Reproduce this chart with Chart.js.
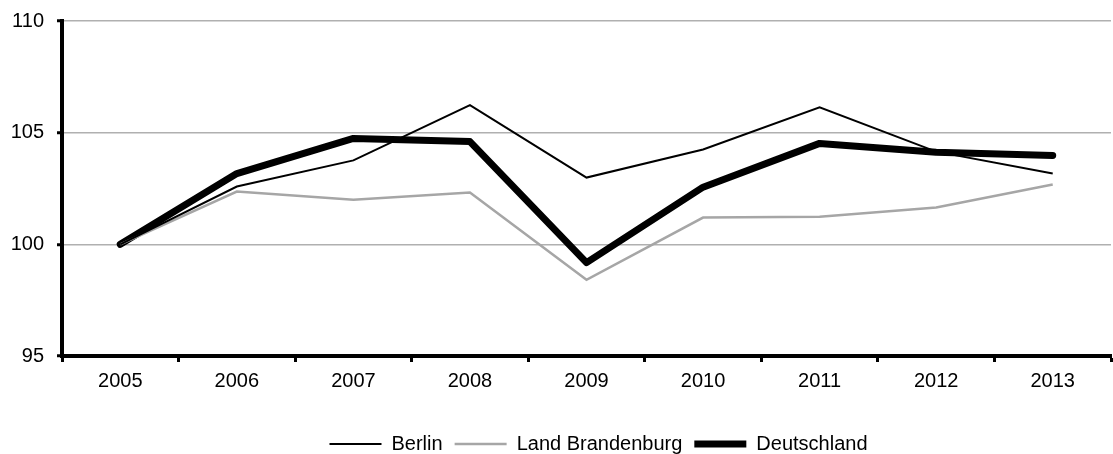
<!DOCTYPE html>
<html>
<head>
<meta charset="utf-8">
<script src="https://cdn.jsdelivr.net/npm/chart.js@4"></script>
<style>
  html, body { margin: 0; padding: 0; background: #fff; }
  #wrap { width: 1113px; height: 454px; }
</style>
</head>
<body>
<div id="wrap"><canvas id="indexChart"></canvas></div>
<script>
// Jahre und Indexwerte (2005 = 100)
const years = ['2005', '2006', '2007', '2008', '2009', '2010', '2011', '2012', '2013'];
const berlin = [100, 102.59, 103.76, 106.23, 102.99, 104.25, 106.14, 104.15, 103.17];
const brandenburg = [100, 102.36, 102.0, 102.32, 98.41, 101.2, 101.24, 101.65, 102.68];
const deutschland = [100, 103.17, 104.74, 104.6, 99.18, 102.56, 104.52, 104.12, 103.98];
const yTicks = [95, 100, 105, 110];

Chart.defaults.font.family = '"Liberation Sans", Arial, sans-serif';
Chart.defaults.color = '#000';

// Legende etwas nach rechts schieben (wie im Original)
const legendShift = {
    id: 'legendShift',
    afterLayout(chart) {
        if (chart.legend) {
            chart.legend.left += 43;
            chart.legend.right += 43;
        }
    }
};

const ctx = document.getElementById('indexChart').getContext('2d');
new Chart(ctx, {
    type: 'line',
    data: {
        labels: years,
        datasets: [
            {
                label: 'Berlin',
                data: berlin,
                borderColor: '#000',
                borderWidth: 2,
                pointRadius: 0,
                tension: 0
            },
            {
                label: 'Land Brandenburg',
                data: brandenburg,
                borderColor: '#a6a6a6',
                borderWidth: 2.5,
                pointRadius: 0,
                tension: 0
            },
            {
                label: 'Deutschland',
                data: deutschland,
                borderColor: '#000',
                borderWidth: 7,
                borderCapStyle: 'round',
                borderJoinStyle: 'round',
                pointRadius: 0,
                tension: 0
            }
        ]
    },
    plugins: [legendShift],
    options: {
        responsive: true,
        maintainAspectRatio: false,
        animation: false,
        layout: {
            padding: { top: 21, right: 2, bottom: -10, left: 0 }
        },
        plugins: {
            tooltip: { enabled: false },
            legend: {
                position: 'bottom',
                labels: {
                    usePointStyle: true,
                    pointStyle: 'line',
                    pointStyleWidth: 52,
                    padding: 12,
                    font: { size: 20 },
                    color: '#000'
                }
            }
        },
        scales: {
            x: {
                offset: true,
                afterFit: function (scale) { scale.height = 66; },
                border: { color: '#000', width: 4 },
                grid: {
                    offset: true,
                    drawOnChartArea: false,
                    drawTicks: true,
                    tickLength: 6,
                    tickColor: '#000',
                    tickWidth: 3
                },
                ticks: {
                    padding: 7,
                    font: { size: 20 },
                    color: '#000',
                    maxRotation: 0
                }
            },
            y: {
                min: 95,
                max: 110,
                afterFit: function (scale) {
                    scale.width = 62;
                    scale.paddingTop = 0;
                    scale.paddingBottom = 0;
                },
                afterBuildTicks: function (scale) {
                    scale.ticks = yTicks.map(v => ({ value: v }));
                },
                border: { color: '#000', width: 4 },
                grid: {
                    color: '#b0b0b0',
                    lineWidth: 1.5,
                    tickLength: 5,
                    tickColor: '#000',
                    tickWidth: 3
                },
                ticks: {
                    padding: 13,
                    font: { size: 20 },
                    color: '#000'
                }
            }
        }
    }
});
</script>
</body>
</html>
